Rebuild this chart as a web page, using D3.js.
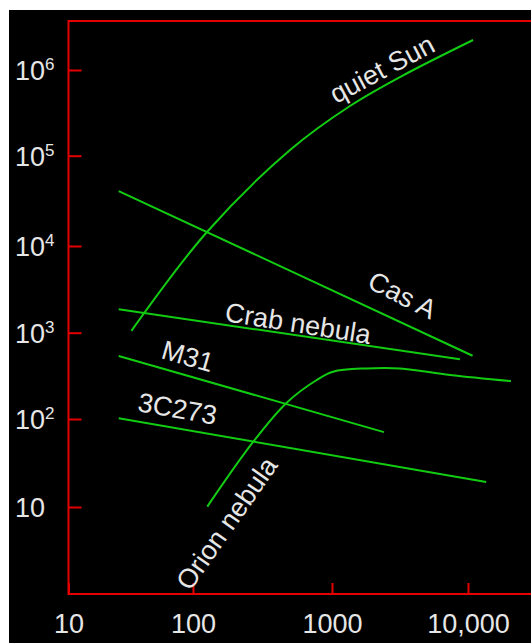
<!DOCTYPE html>
<html>
<head>
<meta charset="utf-8">
<script src="https://cdn.jsdelivr.net/npm/d3@7"></script>
<style>
  html, body { margin: 0; padding: 0; background: #fff; }
  svg { display: block; }
</style>
</head>
<body>
<svg id="chart" width="531" height="643"></svg>
<script>
// Radio spectra of cosmic sources: frequency (MHz) vs flux density (Jy), log-log
const xTicks = [10, 100, 1000, 10000];
const xTickLabels = ["10", "100", "1000", "10,000"];
const yTicks = [10, 1e2, 1e3, 1e4, 1e5, 1e6];
const yTickExponents = [1, 2, 3, 4, 5, 6];

const quietSun = [[32, 1050], [126, 14300], [499, 116600], [1355, 380000], [3160, 828000], [10900, 2240000]];
const casA = [[25.3, 40600], [10800, 541]];
const crabNebula = [[25.3, 1862], [8730, 492]];
const m31 = [[25.3, 537], [2410, 71]];
const c3C273 = [[25.3, 102], [13600, 19.2]];
const orionNebula = [[126.7, 10.1], [271.5, 55.2], [472, 154.5], [776, 283], [1017, 353], [1800, 386], [3162, 386], [7380, 324], [20700, 275]];

const seriesNames = ["quiet Sun", "Cas A", "Crab nebula", "M31", "3C273", "Orion nebula"];
const seriesData = [quietSun, casA, crabNebula, m31, c3C273, orionNebula];

const svg = d3.select("#chart");
const W = 531, H = 643;
const RED = "#e40000", GREEN = "#12cc12", TEXT = "#e6e6e6";
const FONT = "'Liberation Sans', Arial, sans-serif";

// black plotting panel
svg.append("rect").attr("x", 9).attr("y", 10).attr("width", W - 9).attr("height", H - 10).attr("fill", "#000");

const x = d3.scaleLog().domain([10, 100, 1000, 10000]).range([68.5, 193, 332, 468]);
const y = d3.scaleLog().domain([10, 1e2, 1e3, 1e4, 1e5, 1e6]).range([507, 419, 332.7, 246, 155.7, 70]);

const axisY0 = 594, axisX0 = 68.5, topY = 21;

// frame lines
const frame = svg.append("g").attr("stroke", RED).attr("stroke-width", 2).attr("fill", "none");
frame.append("line").attr("x1", axisX0).attr("x2", W).attr("y1", topY).attr("y2", topY);
frame.append("line").attr("x1", axisX0).attr("x2", axisX0).attr("y1", topY - 1).attr("y2", axisY0 + 1);
frame.append("line").attr("x1", axisX0).attr("x2", W).attr("y1", axisY0).attr("y2", axisY0);

// x axis
const gx = svg.append("g").attr("transform", `translate(0,${axisY0})`)
  .call(d3.axisBottom(x).tickValues(xTicks).tickSizeInner(-11).tickSizeOuter(0).tickPadding(20)
    .tickFormat((d, i) => xTickLabels[i]));
gx.select(".domain").remove();
gx.selectAll(".tick line").attr("stroke", RED).attr("stroke-width", 2);
gx.selectAll(".tick text").attr("fill", TEXT).style("font", `27px ${FONT}`);

// y axis
const gy = svg.append("g").attr("transform", `translate(${axisX0},0)`)
  .call(d3.axisLeft(y).tickValues(yTicks).tickSizeInner(-13).tickSizeOuter(0).tickFormat(""));
gy.select(".domain").remove();
gy.selectAll(".tick line").attr("stroke", RED).attr("stroke-width", 2);
gy.selectAll(".tick text").each(function (d, i) {
  const t = d3.select(this)
    .attr("text-anchor", "start").attr("x", 15 - axisX0).attr("dy", "0.36em")
    .attr("fill", TEXT).style("font", `27px ${FONT}`);
  t.append("tspan").text("10");
  if (yTickExponents[i] > 1) {
    t.append("tspan").attr("dy", -10).style("font-size", "17px").text(yTickExponents[i]);
  }
});

// spectra
const line = d3.line().x(d => x(d[0])).y(d => y(d[1])).curve(d3.curveCatmullRom.alpha(0.5));
svg.append("g").selectAll("path").data(seriesData).join("path")
  .attr("d", line).attr("fill", "none").attr("stroke", GREEN).attr("stroke-width", 2);

// source labels: anchor in data units, rotation in degrees
const labelSpecs = [
  { name: "quiet Sun", at: [1070, 401000], rot: -28 },
  { name: "Cas A", at: [1780, 3365], rot: 27 },
  { name: "Crab nebula", at: [167, 1365], rot: 9 },
  { name: "M31", at: [54.2, 509], rot: 16 },
  { name: "3C273", at: [35.3, 124], rot: 10 },
  { name: "Orion nebula", at: [94.6, 1.08], rot: -55 }
];
svg.append("g").selectAll("text").data(labelSpecs).join("text")
  .attr("transform", d => `translate(${x(d.at[0])},${y(d.at[1])}) rotate(${d.rot})`)
  .attr("fill", TEXT).style("font", `27px ${FONT}`)
  .text(d => d.name);
</script>
</body>
</html>
